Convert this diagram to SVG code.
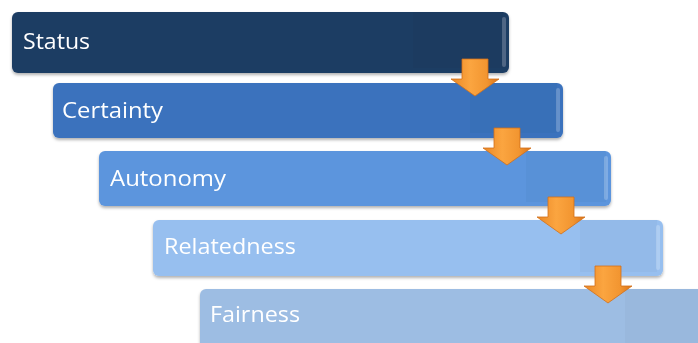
<svg xmlns="http://www.w3.org/2000/svg" width="698" height="343" viewBox="0 0 698 343">
  <style>
    .lbl { font-family: "Open Sans", "DejaVu Sans", sans-serif; font-size: 21px; fill: #ffffff; }
    .shade { fill: #000000; opacity: 0.025; }
    .edge { fill: #ffffff; opacity: 0.22; }
    .arrow { fill: url(#orange); stroke: #d27019; stroke-width: 0.8; }
  </style>
  <defs>
    <filter id="drop" x="-5%" y="-20%" width="110%" height="150%">
      <feDropShadow dx="0" dy="2" stdDeviation="1.5" flood-color="#000" flood-opacity="0.3"/>
    </filter>
    <linearGradient id="orange" x1="0" y1="0" x2="1" y2="0">
      <stop offset="0" stop-color="#ea8826"/>
      <stop offset="0.4" stop-color="#fba540"/>
      <stop offset="0.75" stop-color="#f29530"/>
      <stop offset="1" stop-color="#da7319"/>
    </linearGradient>
    <path id="down" d="M-13,0 H13 V20 H24 L0,37 L-24,20 H-13 Z"/>
  </defs>

  <g id="status" filter="url(#drop)">
    <rect x="12" y="12" width="497" height="61" rx="6" fill="#1e3c63"/>
    <rect class="shade" x="413" y="12" width="90" height="56"/>
    <rect class="edge" x="502" y="17" width="4" height="50" rx="2"/>
    <text class="lbl" x="23" y="49" textLength="67" lengthAdjust="spacingAndGlyphs">Status</text>
  </g>

  <g id="certainty" filter="url(#drop)">
    <rect x="53" y="83" width="510" height="55" rx="6" fill="#3a72bd"/>
    <rect class="shade" x="470" y="83" width="87" height="50"/>
    <rect class="edge" x="556" y="88" width="4" height="44" rx="2"/>
    <text class="lbl" x="62" y="118" textLength="101" lengthAdjust="spacingAndGlyphs">Certainty</text>
  </g>

  <g id="autonomy" filter="url(#drop)">
    <rect x="99" y="151" width="512" height="55" rx="6" fill="#5b95dd"/>
    <rect class="shade" x="526" y="151" width="80" height="51"/>
    <rect class="edge" x="604" y="156" width="4" height="44" rx="2"/>
    <text class="lbl" x="110" y="186" textLength="116" lengthAdjust="spacingAndGlyphs">Autonomy</text>
  </g>

  <g id="relatedness" filter="url(#drop)">
    <rect x="153" y="220" width="510" height="56" rx="6" fill="#97bfef"/>
    <rect class="shade" x="580" y="220" width="77" height="52"/>
    <rect class="edge" x="656" y="225" width="4" height="45" rx="2"/>
    <text class="lbl" x="164" y="254" textLength="132" lengthAdjust="spacingAndGlyphs">Relatedness</text>
  </g>

  <g id="fairness" filter="url(#drop)">
    <rect x="200" y="289" width="520" height="64" rx="6" fill="#9dbde3"/>
    <rect class="shade" x="625" y="289" width="80" height="60"/>
    <text class="lbl" x="210" y="322" textLength="90" lengthAdjust="spacingAndGlyphs">Fairness</text>
  </g>

  <g id="connectors">
    <use href="#down" class="arrow" transform="translate(475,59)"/>
    <use href="#down" class="arrow" transform="translate(507,128)"/>
    <use href="#down" class="arrow" transform="translate(561,197)"/>
    <use href="#down" class="arrow" transform="translate(608,266)"/>
  </g>
</svg>
